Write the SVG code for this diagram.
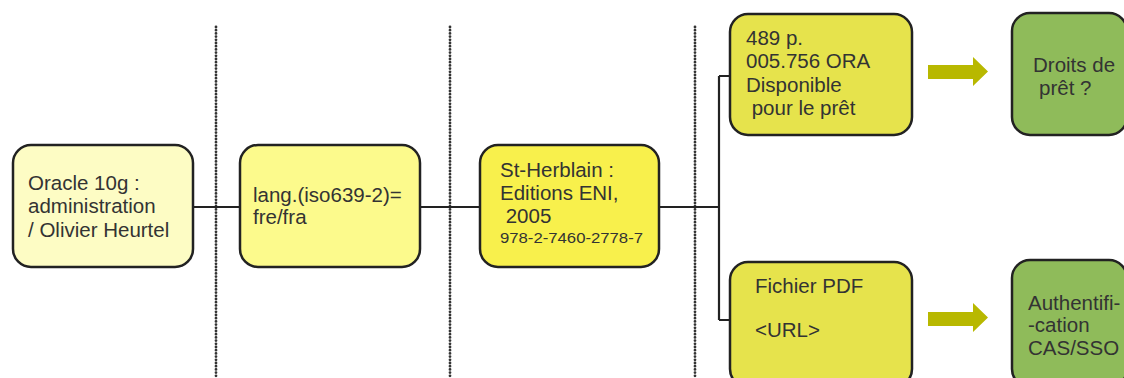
<svg xmlns="http://www.w3.org/2000/svg" width="1124" height="378" viewBox="0 0 1124 378">
<style>
text{font-family:"Liberation Sans",Arial,sans-serif;font-size:20.5px;fill:#333}
.box{stroke:#222;stroke-width:2.5}
.dot{stroke:#333;stroke-width:2.8;stroke-linecap:round;stroke-dasharray:0 3.2;fill:none}
.con{stroke:#222;stroke-width:2.2;fill:none}
.arr{fill:#b8b800}
</style>
<rect width="1124" height="378" fill="#fff"/>
<g id="separators">
<line class="dot" x1="216" y1="27" x2="216" y2="378"/>
<line class="dot" x1="450" y1="27" x2="450" y2="378"/>
<line class="dot" x1="695" y1="27" x2="695" y2="378"/>
</g>
<g id="connectors">
<path class="con" d="M193 207H240M420 207H480M659 207H719M719 76V320M719 76H730M719 320H730"/>
<polygon class="arr" points="928,65 973,65 973,57 988,71.5 973,86 973,79 928,79"/>
<polygon class="arr" points="928,312 973,312 973,303 988,317.5 973,332 973,326 928,326"/>
</g>
<g id="n1">
<rect class="box" x="13" y="145" width="180" height="122" rx="18" fill="#fdfcc4"/>
<text x="28" y="190">Oracle 10g :</text>
<text x="28" y="213">administration</text>
<text x="28" y="237">/ Olivier Heurtel</text>
</g>
<g id="n2">
<rect class="box" x="240" y="145" width="180" height="122" rx="18" fill="#fcfa8c"/>
<text x="253" y="202">lang.(iso639-2)=</text>
<text x="253" y="224">fre/fra</text>
</g>
<g id="n3">
<rect class="box" x="480" y="145" width="179" height="122" rx="18" fill="#f8f04c"/>
<text x="500" y="177">St-Herblain :</text>
<text x="500" y="200">Editions ENI,</text>
<text x="500" y="223" xml:space="preserve"> 2005</text>
<text x="500" y="243" style="font-size:14px" textLength="143" lengthAdjust="spacingAndGlyphs">978-2-7460-2778-7</text>
</g>
<g id="n4">
<rect class="box" x="730" y="14" width="182" height="121" rx="18" fill="#e6e34c"/>
<text x="746" y="45">489 p.</text>
<text x="746" y="68">005.756 ORA</text>
<text x="746" y="92">Disponible</text>
<text x="746" y="115" xml:space="preserve"> pour le prêt</text>
</g>
<g id="n5">
<rect class="box" x="730" y="262" width="182" height="125" rx="18" fill="#e6e34c"/>
<text x="755" y="293">Fichier PDF</text>
<text x="755" y="337">&lt;URL&gt;</text>
</g>
<g id="n6">
<rect class="box" x="1012" y="13" width="115" height="122" rx="18" fill="#8fbb5a"/>
<text x="1033" y="72">Droits de</text>
<text x="1039" y="95">prêt ?</text>
</g>
<g id="n7">
<rect class="box" x="1012" y="260" width="115" height="127" rx="18" fill="#8fbb5a"/>
<text x="1028" y="310">Authentifi-</text>
<text x="1028" y="332">-cation</text>
<text x="1028" y="355">CAS/SSO</text>
</g>
</svg>
